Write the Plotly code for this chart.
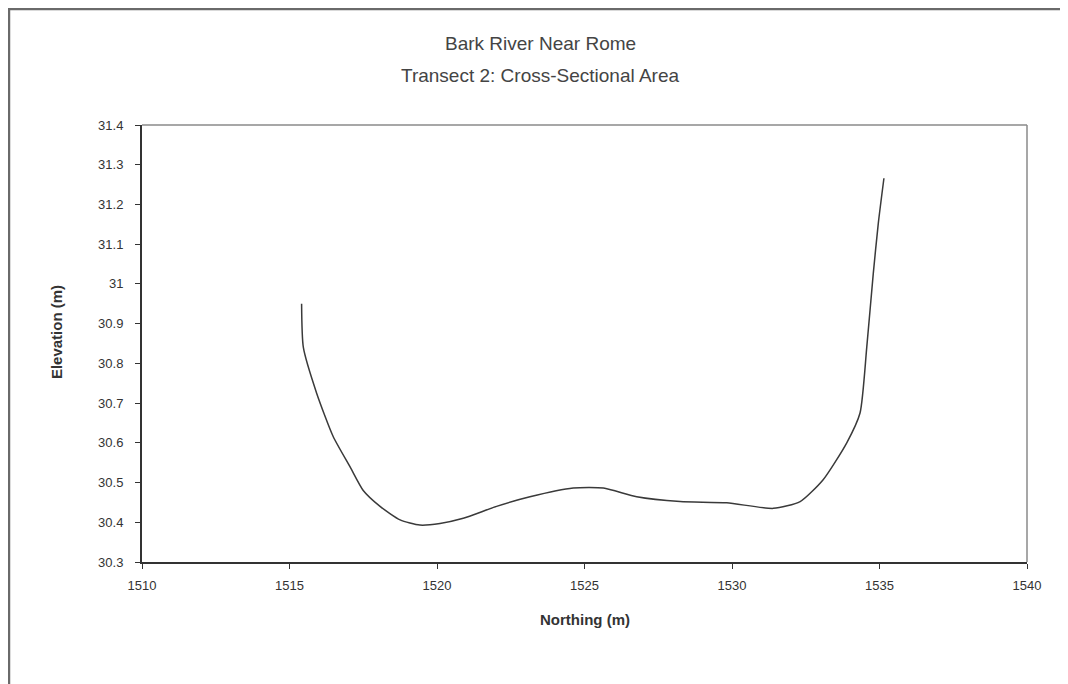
import plotly.graph_objects as go

# transect profile
northing = [1515.41, 1515.47, 1515.92, 1516.48, 1517.05, 1517.50, 1518.07, 1518.75,
            1519.42, 1520.10, 1520.89, 1522.02, 1523.15, 1524.62, 1525.64, 1526.77,
            1528.24, 1529.82, 1531.40, 1532.31, 1533.09, 1533.89, 1534.34, 1534.57,
            1534.79, 1534.96, 1535.15]
elevation = [30.95, 30.84, 30.725, 30.616, 30.54, 30.48, 30.44, 30.406,
             30.393, 30.397, 30.41, 30.44, 30.464, 30.486, 30.486, 30.464,
             30.452, 30.449, 30.435, 30.452, 30.507, 30.60, 30.675, 30.842,
             31.027, 31.153, 31.266]

y_ticks = [30.3, 30.4, 30.5, 30.6, 30.7, 30.8, 30.9, 31.0, 31.1, 31.2, 31.3, 31.4]
y_tick_text = ['30.3', '30.4', '30.5', '30.6', '30.7', '30.8', '30.9', '31', '31.1', '31.2', '31.3', '31.4']
x_ticks = [1510, 1515, 1520, 1525, 1530, 1535, 1540]

font = 'Liberation Sans, Arial, sans-serif'
dark = '#333333'

fig = go.Figure()
fig.add_trace(go.Scatter(
    x=northing, y=elevation, mode='lines',
    line=dict(color='#3a3a3a', width=1.5, shape='spline', smoothing=0.6),
    showlegend=False, hoverinfo='x+y'))

# the page has an 8px body margin, so the figure is sized to fit the window
fig.update_layout(
    width=1060, height=676,
    margin=dict(l=134, r=41, t=117, b=122),
    paper_bgcolor='white', plot_bgcolor='white',
    font=dict(family=font, color=dark, size=13),
    xaxis=dict(range=[1510, 1540], tickvals=x_ticks, ticks='outside', ticklen=5,
               tickcolor=dark, showline=True, linecolor=dark, linewidth=2,
               showgrid=False, zeroline=False, tickfont=dict(size=13, color=dark),
               ticklabelstandoff=5),
    yaxis=dict(range=[30.3, 31.4], tickvals=y_ticks, ticktext=y_tick_text, ticks='outside',
               ticklen=5, tickcolor=dark, showline=True, linecolor=dark, linewidth=2,
               showgrid=False, zeroline=False, tickfont=dict(size=13, color=dark),
               ticklabelstandoff=9),
    shapes=[
        # plot frame top/right
        dict(type='line', xref='paper', yref='paper', x0=0, x1=1, y0=1, y1=1,
             line=dict(color='#8a8a8a', width=1.5)),
        dict(type='line', xref='paper', yref='paper', x0=1, x1=1, y0=0, y1=1,
             line=dict(color='#8a8a8a', width=1.5)),
        # chart area border
        dict(type='rect', xref='paper', yref='paper', x0=-0.1503, x1=1.3, y0=-0.6, y1=1.2654,
             line=dict(color='#6a6a6a', width=2.5), layer='below'),
    ],
    annotations=[
        dict(text='Bark River Near Rome', xref='paper', yref='paper', x=0.4508, y=1.1854,
             xanchor='center', yanchor='middle', showarrow=False,
             font=dict(family=font, size=19, color='#444444')),
        dict(text='Transect 2: Cross-Sectional Area', xref='paper', yref='paper', x=0.4508, y=1.1144,
             xanchor='center', yanchor='middle', showarrow=False,
             font=dict(family=font, size=19, color='#444444')),
        dict(text='<b>Northing (m)</b>', xref='paper', yref='paper', x=0.5006, y=-0.1327,
             xanchor='center', yanchor='middle', showarrow=False,
             font=dict(family=font, size=15, color=dark)),
        dict(text='<b>Elevation (m)</b>', xref='paper', yref='paper', x=-0.0972, y=0.526,
             xanchor='center', yanchor='middle', showarrow=False, textangle=-90,
             font=dict(family=font, size=15, color=dark)),
    ],
)

fig.write_html("out.html")
